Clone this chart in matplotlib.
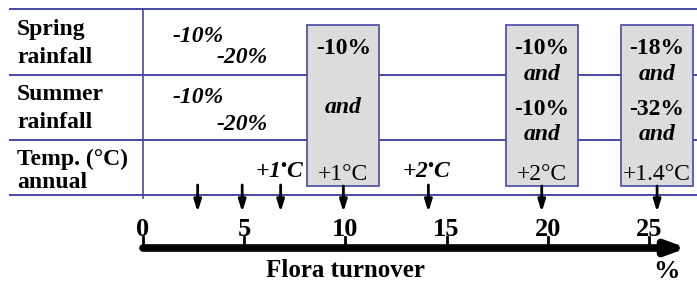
import matplotlib.pyplot as plt
from matplotlib.patches import Rectangle

# Flora turnover (%) produced by each climate scenario
single_turnover = [2.7, 4.9, 6.8, 14.1]
single_labels = ["-10%", "-20%", "$+1^{\u2022}C$", "$+2^{\u2022}C$"]
single_row = ["rain", "rain", "temp", "temp"]

combo_turnover = [9.9, 19.7, 25.4]
combo_lines = [["-10%", "", "and", "", "+1\u00b0C"],
			   ["-10%", "and", "-10%", "and", "+2\u00b0C"],
			   ["-18%", "and", "-32%", "and", "+1.4\u00b0C"]]

row_labels = [["Spring", "rainfall"], ["Summer", "rainfall"], ["Temp. (\u00b0C)", "annual"]]
axis_ticks = [0, 5, 10, 15, 20, 25]

plt.rcParams["mathtext.fontset"] = "custom"
plt.rcParams["mathtext.rm"] = "Liberation Serif:bold:italic"
plt.rcParams["mathtext.it"] = "Liberation Serif:bold:italic"
plt.rcParams["mathtext.bf"] = "Liberation Serif:bold:italic"

# Pixel layout helpers
X0, SCALE = 143.0, 20.24
def px(x):
	return (x - X0) / SCALE

LINE = "#4848a4"
serif = "Liberation Serif"
FS = 17

def txt(x, y, s, **kw):
	kw.setdefault("family", serif)
	kw.setdefault("fontsize", FS)
	kw.setdefault("va", "baseline")
	return ax.text(x, y, s, **kw)

fig = plt.figure(figsize=(6.97, 2.82), dpi=100)
ax = fig.add_axes([0, 0, 1, 1])
ax.set_xlim(px(0), px(697))
ax.set_ylim(282, 0)
ax.axis("off")

# Table grid
for y in [9, 75, 140, 195]:
	ax.plot([px(10), px(697)], [y, y], color=LINE, lw=1.4, zorder=1)
ax.plot([0, 0], [9, 198], color=LINE, lw=1.2, zorder=1)

# Row labels
rl_base = [(35, 63), (100, 128), (165, 188)]
for (l1, l2), (b1, b2) in zip(row_labels, rl_base):
	txt(px(17), b1, l1, weight="bold")
	txt(px(17), b2, l2, weight="bold")

arrow = dict(arrowstyle="-|>,head_width=0.22,head_length=0.7",
			 color="black", lw=2, shrinkA=0, shrinkB=0)

# Single-factor scenarios
for k, (t, lab, row) in enumerate(zip(single_turnover, single_labels, single_row)):
	if row == "rain":
		for base in ([42, 103] if k == 0 else [63, 130]):
			txt(t, base, lab, weight="bold", style="italic", ha="center")
	else:
		txt(t - 0.05, 178, lab, ha="center")
	ax.annotate("", xy=(t, 212), xytext=(t, 185), arrowprops=arrow)

# Combined scenarios (boxes)
box_w = 72 / SCALE
line_base = [54, 80, 115, 140, 180]
for t, lines in zip(combo_turnover, combo_lines):
	ax.add_patch(Rectangle((t - box_w / 2, 25), box_w, 161, facecolor="#dcdcdc",
						   edgecolor=LINE, lw=1.2, zorder=2))
	for i, (s, base) in enumerate(zip(lines, line_base)):
		if not s:
			continue
		if s == "and":
			if lines[1] == "":
				base = 113
			txt(t, base, s, weight="bold", style="italic", ha="center", zorder=3)
		elif i == 4:
			txt(t, base, s, ha="center", zorder=3)
		else:
			txt(t, base, s, weight="bold", ha="center", zorder=3)
	ax.annotate("", xy=(t, 212), xytext=(t, 186), arrowprops=arrow)

# Turnover axis
ax.annotate("", xy=(px(687), 248), xytext=(0, 248),
			arrowprops=dict(arrowstyle="-|>,head_width=0.4,head_length=1.1",
							color="black", lw=5.5, shrinkA=0, shrinkB=0))
for v in axis_ticks:
	ax.plot([v, v], [237, 248], color="black", lw=2)
	txt(v, 236, str(v), weight="bold", fontsize=19, ha="center")
txt(px(345), 277, "Flora turnover", weight="bold", fontsize=18, ha="center")
txt(px(667), 278, "%", weight="bold", fontsize=19, ha="center")

fig.savefig("out.png", dpi=100)
